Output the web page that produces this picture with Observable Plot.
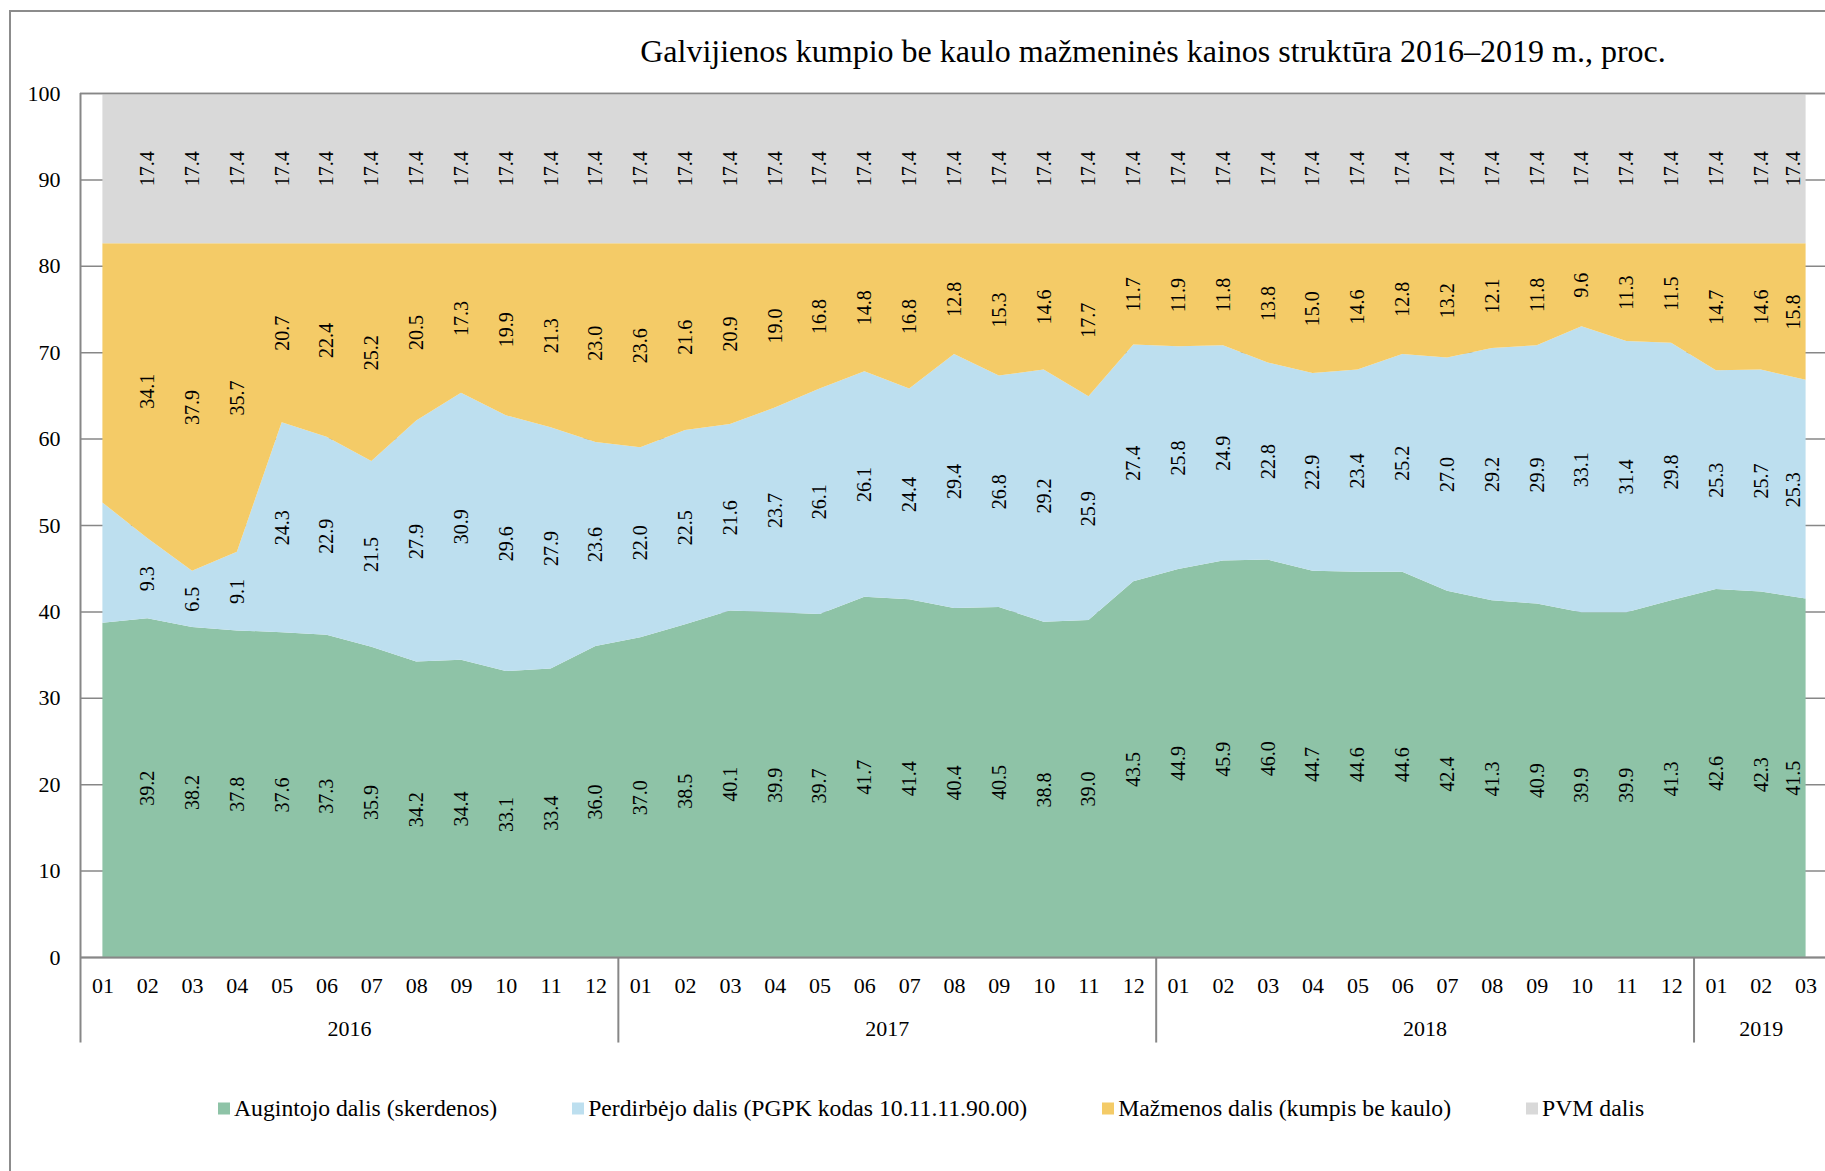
<!DOCTYPE html>
<html>
<head>
<meta charset="utf-8">
<script src="https://cdn.jsdelivr.net/npm/d3@7"></script>
<script src="https://cdn.jsdelivr.net/npm/@observablehq/plot@0.6"></script>
<style>
html, body { margin: 0; padding: 0; background: #fff; overflow: hidden; }
#wrap { position: relative; width: 1825px; height: 1171px; font-family: "Liberation Serif", "Times New Roman", serif; color: #000; }
#frame { position: absolute; left: 9px; top: 10px; width: 1840px; height: 1200px; border: 2px solid #8c8c8c; box-sizing: border-box; }
#title { position: absolute; left: 1153px; top: 51px; transform: translate(-50%, -50%); white-space: nowrap; font-size: 32px; }
#chart { position: absolute; left: 0; top: 75px; }
#legend { position: absolute; left: 218px; top: 1108px; transform: translateY(-50%); display: flex; gap: 75px; white-space: nowrap; font-size: 23.7px; align-items: center; }
.item { display: flex; align-items: center; gap: 4px; }
.sw { width: 12px; height: 12px; display: inline-block; }
</style>
</head>
<body>
<div id="wrap">
  <div id="frame"></div>
  <div id="title">Galvijienos kumpio be kaulo mažmeninės kainos struktūra 2016–2019 m., proc.</div>
  <div id="chart"></div>
  <div id="legend"></div>
</div>
<script>
const periods = [
  "2016-01","2016-02","2016-03","2016-04","2016-05","2016-06","2016-07","2016-08","2016-09","2016-10","2016-11","2016-12",
  "2017-01","2017-02","2017-03","2017-04","2017-05","2017-06","2017-07","2017-08","2017-09","2017-10","2017-11","2017-12",
  "2018-01","2018-02","2018-03","2018-04","2018-05","2018-06","2018-07","2018-08","2018-09","2018-10","2018-11","2018-12",
  "2019-01","2019-02","2019-03"
];
const seriesNames = [
  "Augintojo dalis (skerdenos)",
  "Perdirbėjo dalis (PGPK kodas 10.11.11.90.00)",
  "Mažmenos dalis (kumpis be kaulo)",
  "PVM dalis"
];
const seriesColors = ["#8ec3a7", "#bddfef", "#f4cb67", "#d9d9d9"];

const augintojo = [38.7, 39.2,38.2,37.8,37.6,37.3,35.9,34.2,34.4,33.1,33.4,36.0,
  37.0,38.5,40.1,39.9,39.7,41.7,41.4,40.4,40.5,38.8,39.0,43.5,
  44.9,45.9,46.0,44.7,44.6,44.6,42.4,41.3,40.9,39.9,39.9,41.3,
  42.6,42.3,41.5];
const perdirbejo = [13.9, 9.3,6.5,9.1,24.3,22.9,21.5,27.9,30.9,29.6,27.9,23.6,
  22.0,22.5,21.6,23.7,26.1,26.1,24.4,29.4,26.8,29.2,25.9,27.4,
  25.8,24.9,22.8,22.9,23.4,25.2,27.0,29.2,29.9,33.1,31.4,29.8,
  25.3,25.7,25.3];
const mazmenos = [30.0, 34.1,37.9,35.7,20.7,22.4,25.2,20.5,17.3,19.9,21.3,23.0,
  23.6,21.6,20.9,19.0,16.8,14.8,16.8,12.8,15.3,14.6,17.7,11.7,
  11.9,11.8,13.8,15.0,14.6,12.8,13.2,12.1,11.8,9.6,11.3,11.5,
  14.7,14.6,15.8];
const pvm = [17.4,17.4,17.4,17.4,17.4,17.4,17.4,17.4,17.4,17.4,17.4,17.4,
  17.4,17.4,17.4,17.4,17.4,17.4,17.4,17.4,17.4,17.4,17.4,17.4,
  17.4,17.4,17.4,17.4,17.4,17.4,17.4,17.4,17.4,17.4,17.4,17.4,
  17.4,17.4,17.4];
const unlabelledPeriods = ["2016-01"];
const yTicks = [0,10,20,30,40,50,60,70,80,90,100];

const values = [augintojo, perdirbejo, mazmenos, pvm];
const rows = periods.flatMap((p, i) => seriesNames.map((s, k) => ({i, period: p, series: s, value: values[k][i]})));
const labelRows = rows.filter(d => !unlabelledPeriods.includes(d.period));
const lastIdx = periods.length - 1;
const years = [...new Set(periods.map(p => p.slice(0, 4)))];
const yearCenters = years.map(y => {
  const idx = periods.map((p, i) => p.startsWith(y) ? i : -1).filter(v => v >= 0);
  return {year: y, i: (idx[0] + idx[idx.length - 1]) / 2};
});
const boundaries = years.slice(1).map(y => periods.findIndex(p => p.startsWith(y)) - 0.5);

const axisColor = "#878787";
const below = -9.9; // how far the category separators reach under the axis (in y units)

const labelOpts = {x: "i", y: "value", z: "series", order: seriesNames,
  text: d => d.value.toFixed(1), rotate: -90, fontSize: 20, fill: "#000"};

const chart = Plot.plot({
  width: 1825,
  height: 985,
  marginLeft: 80, marginRight: 0, marginTop: 18, marginBottom: 103,
  x: {type: "linear", domain: [-0.5, lastIdx + 0.5], range: [80, 1828], axis: null},
  y: {domain: [0, 100], range: [882, 18], axis: null},
  color: {domain: seriesNames, range: seriesColors},
  style: {fontFamily: "Liberation Serif, Times New Roman, serif", background: "transparent", overflow: "hidden"},
  marks: [
    Plot.ruleY(yTicks, {stroke: axisColor, strokeWidth: 1.5}),
    Plot.areaY(rows, {x: "i", y: "value", fill: "series", z: "series", order: seriesNames, curve: "linear"}),
    Plot.ruleY([100], {stroke: axisColor, strokeWidth: 1.5}),
    Plot.ruleY([0], {stroke: axisColor, strokeWidth: 2}),
    Plot.ruleX([-0.5], {y1: below, y2: 100, stroke: axisColor, strokeWidth: 2}),
    Plot.ruleX(boundaries, {y1: below, y2: 0, stroke: axisColor, strokeWidth: 2}),
    Plot.text(yTicks, {y: d => d, frameAnchor: "left", dx: -20, textAnchor: "end", fontSize: 22, fill: "#000"}),
    Plot.text(periods, {x: (d, i) => i, y: () => 0, dy: 28, text: d => d.slice(5), fontSize: 22, fill: "#000"}),
    Plot.text(yearCenters, {x: "i", y: () => 0, dy: 71, text: "year", fontSize: 22, fill: "#000"}),
    Plot.text(labelRows.filter(d => d.i !== lastIdx), Plot.stackY(labelOpts)),
    Plot.text(labelRows.filter(d => d.i === lastIdx), Plot.stackY({...labelOpts, dx: -12}))
  ]
});
document.getElementById("chart").appendChild(chart);

const legend = document.getElementById("legend");
seriesNames.forEach((s, k) => {
  const item = document.createElement("div");
  item.className = "item";
  const sw = document.createElement("span");
  sw.className = "sw";
  sw.style.background = seriesColors[k];
  const t = document.createElement("span");
  t.textContent = s;
  item.appendChild(sw);
  item.appendChild(t);
  legend.appendChild(item);
});
</script>
</body>
</html>
